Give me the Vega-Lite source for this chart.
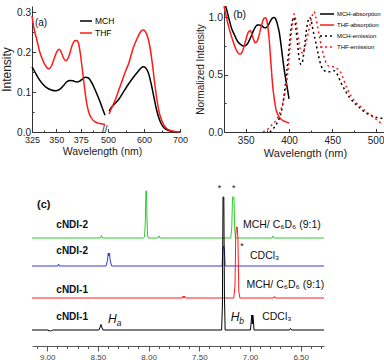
{
"$schema": "https://vega.github.io/schema/vega-lite/v6.json",
"padding": {"left": 0, "top": 6, "right": 0, "bottom": 0},
"spacing": 23,
"config": {"font": "Liberation Sans", "view": {"stroke": null}, "axis": {"grid": false, "domainColor": "#333", "tickColor": "#333", "labelColor": "#222", "titleColor": "#222", "titleFontWeight": "normal", "labelFlush": false}, "legend": {"padding": 0}},
"datasets": {
"absA": [
{"w":325,"v":0.163,"s":"MCH","seg":"L"},{"w":328,"v":0.15,"s":"MCH","seg":"L"},{"w":332,"v":0.133,"s":"MCH","seg":"L"},{"w":336,"v":0.12,"s":"MCH","seg":"L"},{"w":340,"v":0.111,"s":"MCH","seg":"L"},{"w":345,"v":0.105,"s":"MCH","seg":"L"},{"w":349,"v":0.103,"s":"MCH","seg":"L"},{"w":353,"v":0.106,"s":"MCH","seg":"L"},{"w":357,"v":0.115,"s":"MCH","seg":"L"},{"w":361,"v":0.126,"s":"MCH","seg":"L"},{"w":364,"v":0.129,"s":"MCH","seg":"L"},{"w":367,"v":0.128,"s":"MCH","seg":"L"},{"w":371,"v":0.125,"s":"MCH","seg":"L"},{"w":374,"v":0.127,"s":"MCH","seg":"L"},{"w":377,"v":0.133,"s":"MCH","seg":"L"},{"w":380,"v":0.137,"s":"MCH","seg":"L"},{"w":383,"v":0.135,"s":"MCH","seg":"L"},{"w":386,"v":0.125,"s":"MCH","seg":"L"},{"w":389,"v":0.11,"s":"MCH","seg":"L"},{"w":392,"v":0.093,"s":"MCH","seg":"L"},{"w":395,"v":0.075,"s":"MCH","seg":"L"},{"w":398,"v":0.055,"s":"MCH","seg":"L"},{"w":400,"v":0.042,"s":"MCH","seg":"L"},
{"w":325,"v":0.29,"s":"THF","seg":"L"},{"w":327,"v":0.26,"s":"THF","seg":"L"},{"w":330,"v":0.23,"s":"THF","seg":"L"},{"w":333,"v":0.2,"s":"THF","seg":"L"},{"w":336,"v":0.18,"s":"THF","seg":"L"},{"w":339,"v":0.165,"s":"THF","seg":"L"},{"w":342,"v":0.158,"s":"THF","seg":"L"},{"w":345,"v":0.165,"s":"THF","seg":"L"},{"w":348,"v":0.185,"s":"THF","seg":"L"},{"w":351,"v":0.203,"s":"THF","seg":"L"},{"w":353,"v":0.207,"s":"THF","seg":"L"},{"w":355,"v":0.2,"s":"THF","seg":"L"},{"w":357,"v":0.187,"s":"THF","seg":"L"},{"w":360,"v":0.178,"s":"THF","seg":"L"},{"w":363,"v":0.19,"s":"THF","seg":"L"},{"w":366,"v":0.215,"s":"THF","seg":"L"},{"w":369,"v":0.228,"s":"THF","seg":"L"},{"w":371,"v":0.229,"s":"THF","seg":"L"},{"w":373,"v":0.22,"s":"THF","seg":"L"},{"w":375,"v":0.19,"s":"THF","seg":"L"},{"w":377,"v":0.15,"s":"THF","seg":"L"},{"w":379,"v":0.11,"s":"THF","seg":"L"},{"w":381,"v":0.075,"s":"THF","seg":"L"},{"w":383,"v":0.052,"s":"THF","seg":"L"},{"w":386,"v":0.035,"s":"THF","seg":"L"},{"w":390,"v":0.025,"s":"THF","seg":"L"},{"w":395,"v":0.021,"s":"THF","seg":"L"},{"w":400,"v":0.019,"s":"THF","seg":"L"},
{"w":503,"v":0.052,"s":"MCH","seg":"R"},{"w":510,"v":0.062,"s":"MCH","seg":"R"},{"w":520,"v":0.072,"s":"MCH","seg":"R"},{"w":530,"v":0.082,"s":"MCH","seg":"R"},{"w":540,"v":0.096,"s":"MCH","seg":"R"},{"w":550,"v":0.11,"s":"MCH","seg":"R"},{"w":557,"v":0.12,"s":"MCH","seg":"R"},{"w":565,"v":0.13,"s":"MCH","seg":"R"},{"w":576,"v":0.143,"s":"MCH","seg":"R"},{"w":585,"v":0.153,"s":"MCH","seg":"R"},{"w":592,"v":0.16,"s":"MCH","seg":"R"},{"w":598,"v":0.163,"s":"MCH","seg":"R"},{"w":605,"v":0.16,"s":"MCH","seg":"R"},{"w":612,"v":0.148,"s":"MCH","seg":"R"},{"w":620,"v":0.12,"s":"MCH","seg":"R"},{"w":628,"v":0.085,"s":"MCH","seg":"R"},{"w":635,"v":0.055,"s":"MCH","seg":"R"},{"w":642,"v":0.033,"s":"MCH","seg":"R"},{"w":650,"v":0.017,"s":"MCH","seg":"R"},{"w":660,"v":0.007,"s":"MCH","seg":"R"},{"w":675,"v":0.002,"s":"MCH","seg":"R"},{"w":700,"v":0,"s":"MCH","seg":"R"},
{"w":503,"v":0.045,"s":"THF","seg":"R"},{"w":510,"v":0.06,"s":"THF","seg":"R"},{"w":520,"v":0.08,"s":"THF","seg":"R"},{"w":530,"v":0.105,"s":"THF","seg":"R"},{"w":540,"v":0.13,"s":"THF","seg":"R"},{"w":550,"v":0.155,"s":"THF","seg":"R"},{"w":557,"v":0.17,"s":"THF","seg":"R"},{"w":570,"v":0.21,"s":"THF","seg":"R"},{"w":580,"v":0.232,"s":"THF","seg":"R"},{"w":590,"v":0.25,"s":"THF","seg":"R"},{"w":597,"v":0.255,"s":"THF","seg":"R"},{"w":603,"v":0.252,"s":"THF","seg":"R"},{"w":610,"v":0.238,"s":"THF","seg":"R"},{"w":617,"v":0.21,"s":"THF","seg":"R"},{"w":624,"v":0.165,"s":"THF","seg":"R"},{"w":630,"v":0.12,"s":"THF","seg":"R"},{"w":636,"v":0.08,"s":"THF","seg":"R"},{"w":642,"v":0.05,"s":"THF","seg":"R"},{"w":650,"v":0.027,"s":"THF","seg":"R"},{"w":660,"v":0.011,"s":"THF","seg":"R"},{"w":675,"v":0.003,"s":"THF","seg":"R"},{"w":700,"v":0,"s":"THF","seg":"R"}
],
"absB": [
{"w":325,"v":1.14,"s":"MCH-absorption"},{"w":328,"v":1.07,"s":"MCH-absorption"},{"w":331,"v":0.98,"s":"MCH-absorption"},{"w":334,"v":0.9,"s":"MCH-absorption"},{"w":337,"v":0.85,"s":"MCH-absorption"},{"w":340,"v":0.8,"s":"MCH-absorption"},{"w":344,"v":0.765,"s":"MCH-absorption"},{"w":348,"v":0.75,"s":"MCH-absorption"},{"w":352,"v":0.77,"s":"MCH-absorption"},{"w":356,"v":0.83,"s":"MCH-absorption"},{"w":360,"v":0.9,"s":"MCH-absorption"},{"w":364,"v":0.935,"s":"MCH-absorption"},{"w":368,"v":0.93,"s":"MCH-absorption"},{"w":372,"v":0.91,"s":"MCH-absorption"},{"w":375,"v":0.92,"s":"MCH-absorption"},{"w":378,"v":0.96,"s":"MCH-absorption"},{"w":381,"v":0.995,"s":"MCH-absorption"},{"w":383,"v":1.0,"s":"MCH-absorption"},{"w":385,"v":0.98,"s":"MCH-absorption"},{"w":387,"v":0.93,"s":"MCH-absorption"},{"w":389,"v":0.86,"s":"MCH-absorption"},{"w":391,"v":0.75,"s":"MCH-absorption"},{"w":393,"v":0.63,"s":"MCH-absorption"},{"w":395,"v":0.52,"s":"MCH-absorption"},{"w":397,"v":0.43,"s":"MCH-absorption"},{"w":399,"v":0.34,"s":"MCH-absorption"},{"w":400,"v":0.29,"s":"MCH-absorption"},
{"w":325,"v":1.1,"s":"THF-absorption"},{"w":327,"v":1.03,"s":"THF-absorption"},{"w":330,"v":0.93,"s":"THF-absorption"},{"w":333,"v":0.85,"s":"THF-absorption"},{"w":336,"v":0.78,"s":"THF-absorption"},{"w":339,"v":0.72,"s":"THF-absorption"},{"w":342,"v":0.685,"s":"THF-absorption"},{"w":344,"v":0.68,"s":"THF-absorption"},{"w":347,"v":0.72,"s":"THF-absorption"},{"w":350,"v":0.8,"s":"THF-absorption"},{"w":353,"v":0.87,"s":"THF-absorption"},{"w":355,"v":0.885,"s":"THF-absorption"},{"w":357,"v":0.86,"s":"THF-absorption"},{"w":359,"v":0.81,"s":"THF-absorption"},{"w":361,"v":0.78,"s":"THF-absorption"},{"w":363,"v":0.79,"s":"THF-absorption"},{"w":366,"v":0.86,"s":"THF-absorption"},{"w":369,"v":0.95,"s":"THF-absorption"},{"w":371,"v":0.99,"s":"THF-absorption"},{"w":373,"v":0.998,"s":"THF-absorption"},{"w":375,"v":0.95,"s":"THF-absorption"},{"w":377,"v":0.82,"s":"THF-absorption"},{"w":379,"v":0.62,"s":"THF-absorption"},{"w":381,"v":0.42,"s":"THF-absorption"},{"w":383,"v":0.29,"s":"THF-absorption"},{"w":385,"v":0.2,"s":"THF-absorption"},{"w":388,"v":0.14,"s":"THF-absorption"},{"w":392,"v":0.105,"s":"THF-absorption"},{"w":396,"v":0.09,"s":"THF-absorption"},{"w":400,"v":0.08,"s":"THF-absorption"},
{"w":378,"v":0.0,"s":"MCH-emission"},{"w":383,"v":0.04,"s":"MCH-emission"},{"w":387,"v":0.09,"s":"MCH-emission"},{"w":391,"v":0.17,"s":"MCH-emission"},{"w":394,"v":0.3,"s":"MCH-emission"},{"w":397,"v":0.5,"s":"MCH-emission"},{"w":400,"v":0.72,"s":"MCH-emission"},{"w":402,"v":0.88,"s":"MCH-emission"},{"w":404,"v":0.97,"s":"MCH-emission"},{"w":406,"v":1.0,"s":"MCH-emission"},{"w":408,"v":0.9,"s":"MCH-emission"},{"w":410,"v":0.76,"s":"MCH-emission"},{"w":412,"v":0.63,"s":"MCH-emission"},{"w":414,"v":0.59,"s":"MCH-emission"},{"w":416,"v":0.63,"s":"MCH-emission"},{"w":418,"v":0.75,"s":"MCH-emission"},{"w":420,"v":0.88,"s":"MCH-emission"},{"w":422,"v":0.97,"s":"MCH-emission"},{"w":424,"v":1.0,"s":"MCH-emission"},{"w":426,"v":0.96,"s":"MCH-emission"},{"w":428,"v":0.88,"s":"MCH-emission"},{"w":431,"v":0.78,"s":"MCH-emission"},{"w":434,"v":0.67,"s":"MCH-emission"},{"w":437,"v":0.58,"s":"MCH-emission"},{"w":441,"v":0.535,"s":"MCH-emission"},{"w":446,"v":0.525,"s":"MCH-emission"},{"w":452,"v":0.535,"s":"MCH-emission"},{"w":456,"v":0.5,"s":"MCH-emission"},{"w":460,"v":0.43,"s":"MCH-emission"},{"w":465,"v":0.36,"s":"MCH-emission"},{"w":470,"v":0.3,"s":"MCH-emission"},{"w":476,"v":0.25,"s":"MCH-emission"},{"w":482,"v":0.21,"s":"MCH-emission"},{"w":488,"v":0.17,"s":"MCH-emission"},{"w":494,"v":0.15,"s":"MCH-emission"},{"w":500,"v":0.13,"s":"MCH-emission"},{"w":506,"v":0.12,"s":"MCH-emission"},{"w":512,"v":0.12,"s":"MCH-emission"},
{"w":370,"v":0.0,"s":"THF-emission"},{"w":375,"v":0.02,"s":"THF-emission"},{"w":380,"v":0.06,"s":"THF-emission"},{"w":385,"v":0.1,"s":"THF-emission"},{"w":389,"v":0.16,"s":"THF-emission"},{"w":393,"v":0.26,"s":"THF-emission"},{"w":396,"v":0.37,"s":"THF-emission"},{"w":399,"v":0.55,"s":"THF-emission"},{"w":402,"v":0.8,"s":"THF-emission"},{"w":404,"v":0.95,"s":"THF-emission"},{"w":406,"v":1.03,"s":"THF-emission"},{"w":408,"v":0.97,"s":"THF-emission"},{"w":410,"v":0.86,"s":"THF-emission"},{"w":412,"v":0.76,"s":"THF-emission"},{"w":414,"v":0.7,"s":"THF-emission"},{"w":416,"v":0.69,"s":"THF-emission"},{"w":418,"v":0.73,"s":"THF-emission"},{"w":421,"v":0.82,"s":"THF-emission"},{"w":424,"v":0.93,"s":"THF-emission"},{"w":427,"v":1.02,"s":"THF-emission"},{"w":429,"v":1.05,"s":"THF-emission"},{"w":431,"v":1.0,"s":"THF-emission"},{"w":433,"v":0.92,"s":"THF-emission"},{"w":436,"v":0.8,"s":"THF-emission"},{"w":439,"v":0.7,"s":"THF-emission"},{"w":442,"v":0.62,"s":"THF-emission"},{"w":446,"v":0.575,"s":"THF-emission"},{"w":451,"v":0.57,"s":"THF-emission"},{"w":455,"v":0.555,"s":"THF-emission"},{"w":459,"v":0.53,"s":"THF-emission"},{"w":463,"v":0.46,"s":"THF-emission"},{"w":467,"v":0.38,"s":"THF-emission"},{"w":472,"v":0.31,"s":"THF-emission"},{"w":477,"v":0.26,"s":"THF-emission"},{"w":483,"v":0.22,"s":"THF-emission"},{"w":489,"v":0.18,"s":"THF-emission"},{"w":495,"v":0.14,"s":"THF-emission"},{"w":501,"v":0.11,"s":"THF-emission"},{"w":507,"v":0.07,"s":"THF-emission"}
],
"nmr": [
{"p":9.15,"v":108,"s":"G"},{"p":8.475,"v":108,"s":"G"},{"p":8.465,"v":110.5,"s":"G"},{"p":8.455,"v":108,"s":"G"},{"p":8.05,"v":108,"s":"G"},{"p":8.04,"v":109,"s":"G"},{"p":8.032,"v":125,"s":"G"},{"p":8.027,"v":155,"s":"G"},{"p":8.021,"v":155,"s":"G"},{"p":8.016,"v":128,"s":"G"},{"p":8.01,"v":110,"s":"G"},{"p":8.0,"v":108,"s":"G"},{"p":7.905,"v":108,"s":"G"},{"p":7.895,"v":110,"s":"G"},{"p":7.885,"v":108,"s":"G"},{"p":7.19,"v":108,"s":"G"},{"p":7.18,"v":118,"s":"G"},{"p":7.172,"v":149,"s":"G"},{"p":7.165,"v":149,"s":"G"},{"p":7.158,"v":149,"s":"G"},{"p":7.151,"v":118,"s":"G"},{"p":7.143,"v":108,"s":"G"},{"p":6.785,"v":108,"s":"G"},{"p":6.775,"v":110,"s":"G"},{"p":6.765,"v":108,"s":"G"},{"p":6.27,"v":108,"s":"G"},
{"p":9.15,"v":80,"s":"B"},{"p":8.895,"v":80,"s":"B"},{"p":8.888,"v":82,"s":"B"},{"p":8.88,"v":80,"s":"B"},{"p":8.42,"v":80,"s":"B"},{"p":8.405,"v":86,"s":"B"},{"p":8.398,"v":93,"s":"B"},{"p":8.392,"v":90,"s":"B"},{"p":8.386,"v":93,"s":"B"},{"p":8.379,"v":86,"s":"B"},{"p":8.365,"v":80,"s":"B"},{"p":7.275,"v":80,"s":"B"},{"p":7.268,"v":96,"s":"B"},{"p":7.26,"v":100,"s":"B"},{"p":7.252,"v":96,"s":"B"},{"p":7.245,"v":80,"s":"B"},{"p":6.27,"v":80,"s":"B"},
{"p":9.15,"v":48,"s":"R"},{"p":7.665,"v":48,"s":"R"},{"p":7.66,"v":50,"s":"R"},{"p":7.652,"v":48,"s":"R"},{"p":7.645,"v":50,"s":"R"},{"p":7.638,"v":48,"s":"R"},{"p":7.16,"v":48,"s":"R"},{"p":7.148,"v":60,"s":"R"},{"p":7.14,"v":112,"s":"R"},{"p":7.133,"v":119,"s":"R"},{"p":7.126,"v":119,"s":"R"},{"p":7.119,"v":108,"s":"R"},{"p":7.11,"v":55,"s":"R"},{"p":7.1,"v":48,"s":"R"},{"p":6.765,"v":48,"s":"R"},{"p":6.758,"v":49.5,"s":"R"},{"p":6.75,"v":48,"s":"R"},{"p":6.27,"v":48,"s":"R"},
{"p":9.15,"v":16,"s":"K"},{"p":8.99,"v":16,"s":"K"},{"p":8.985,"v":15,"s":"K"},{"p":8.975,"v":15.5,"s":"K"},{"p":8.965,"v":15,"s":"K"},{"p":8.955,"v":15.5,"s":"K"},{"p":8.94,"v":16,"s":"K"},{"p":8.49,"v":16,"s":"K"},{"p":8.478,"v":19,"s":"K"},{"p":8.47,"v":21.5,"s":"K"},{"p":8.462,"v":19,"s":"K"},{"p":8.45,"v":16,"s":"K"},{"p":7.28,"v":16,"s":"K"},{"p":7.272,"v":40,"s":"K"},{"p":7.266,"v":149,"s":"K"},{"p":7.258,"v":149,"s":"K"},{"p":7.252,"v":50,"s":"K"},{"p":7.245,"v":16,"s":"K"},{"p":6.995,"v":16,"s":"K"},{"p":6.987,"v":26,"s":"K"},{"p":6.982,"v":31,"s":"K"},{"p":6.977,"v":22,"s":"K"},{"p":6.972,"v":31,"s":"K"},{"p":6.967,"v":26,"s":"K"},{"p":6.96,"v":16,"s":"K"},{"p":6.61,"v":16,"s":"K"},{"p":6.6,"v":17.5,"s":"K"},{"p":6.59,"v":16,"s":"K"},{"p":6.27,"v":16,"s":"K"}
]
},
"vconcat": [
{
"width": 354, "height": 126,
"resolve": {"scale": {"x": "independent", "y": "independent", "color": "independent", "strokeDash": "independent"}},
"layer": [
{
"data": {"name": "absA"},
"transform": [{"filter": "datum.seg == 'L'"}],
"mark": {"type": "line", "strokeWidth": 1.5, "interpolate": "monotone"},
"encoding": {
"x": {"field": "w", "type": "quantitative", "scale": {"domain": [325, 400], "range": [0, 73], "nice": false, "zero": false},
 "axis": {"orient": "bottom", "title": null, "values": [325, 337.5, 350, 362.5, 375, 387.5], "labelExpr": "datum.value % 25 == 0 ? datum.label : ''", "tickSize": {"condition": {"test": "datum.value % 25 == 0", "value": -3.5}, "value": -2}, "labelFontSize": 9, "labelPadding": 7}},
"y": {"field": "v", "type": "quantitative", "scale": {"domain": [0, 0.315], "nice": false},
 "axis": {"orient": "left", "title": "Intensity", "titleFontSize": 12, "titlePadding": 3, "values": [0, 0.05, 0.1, 0.15, 0.2, 0.25, 0.3], "labelExpr": "abs(datum.value*10 - round(datum.value*10)) < 0.001 ? format(datum.value, '.1f') : ''", "tickSize": {"condition": {"test": "abs(datum.value*10 - round(datum.value*10)) < 0.001", "value": -3.5}, "value": -2}, "labelFontSize": 10, "labelPadding": 5}},
"color": {"field": "s", "type": "nominal", "scale": {"domain": ["MCH", "THF"], "range": ["#000000", "#ff1a1a"]},
 "legend": {"orient": "none", "legendX": 47, "legendY": 8, "title": null, "symbolType": "stroke", "symbolSize": 144, "symbolStrokeWidth": 1.5, "labelFontSize": 8.5, "rowPadding": -1, "labelOffset": 2}}
}
},
{
"data": {"values": [{"w": 328, "v": 0.2725, "t": "(a)"}, {"w": 397, "v": 0.006, "t": "//"}]},
"mark": {"type": "text", "align": "left", "baseline": "middle", "fontSize": 10, "color": "#111"},
"encoding": {
"x": {"field": "w", "type": "quantitative", "scale": {"domain": [325, 400], "range": [0, 73], "nice": false, "zero": false}, "axis": null},
"y": {"field": "v", "type": "quantitative", "scale": {"domain": [0, 0.315], "nice": false}, "axis": null},
"text": {"field": "t"}
}
},
{
"data": {"name": "absA"},
"transform": [{"filter": "datum.seg == 'R'"}],
"mark": {"type": "line", "strokeWidth": 1.5, "interpolate": "monotone"},
"encoding": {
"x": {"field": "w", "type": "quantitative", "scale": {"domain": [500, 700], "range": [76, 148], "nice": false, "zero": false},
 "axis": {"orient": "bottom", "title": "Wavelength (nm)", "titleX": 70, "titleFontSize": 10.5, "titlePadding": 2, "values": [500, 550, 600, 650, 700], "labelExpr": "datum.value % 100 == 0 ? datum.label : ''", "tickSize": {"condition": {"test": "datum.value % 100 == 0", "value": -3.5}, "value": -2}, "labelFontSize": 9, "labelPadding": 7}},
"y": {"field": "v", "type": "quantitative", "scale": {"domain": [0, 0.315], "nice": false}, "axis": null},
"color": {"field": "s", "type": "nominal", "scale": {"domain": ["MCH", "THF"], "range": ["#000000", "#ff1a1a"]}, "legend": null}
}
},
{
"data": {"name": "absB"},
"mark": {"type": "line", "strokeWidth": 1.5, "interpolate": "monotone", "clip": true},
"encoding": {
"x": {"field": "w", "type": "quantitative", "scale": {"domain": [325, 512], "range": [192, 354], "nice": false, "zero": false},
 "axis": {"orient": "bottom", "title": "Wavelength (nm)", "titleFontSize": 11, "titlePadding": 2, "values": [350, 375, 400, 425, 450, 475, 500], "labelExpr": "datum.value % 50 == 0 ? datum.label : ''", "tickSize": {"condition": {"test": "datum.value % 50 == 0", "value": -3.5}, "value": -2}, "labelFontSize": 10, "labelPadding": 7}},
"y": {"field": "v", "type": "quantitative", "scale": {"domain": [0, 1.1], "nice": false},
 "axis": {"orient": "left", "offset": -192, "title": "Normalized Intensity", "titleFontSize": 10, "titlePadding": 2, "values": [0, 0.25, 0.5, 0.75, 1.0], "labelExpr": "abs(datum.value*2 - round(datum.value*2)) < 0.001 ? format(datum.value, '.1f') : ''", "tickSize": {"condition": {"test": "abs(datum.value*2 - round(datum.value*2)) < 0.001", "value": -3.5}, "value": -2}, "labelFontSize": 10.5, "labelPadding": 5}},
"color": {"field": "s", "type": "nominal", "scale": {"domain": ["MCH-absorption", "THF-absorption", "MCH-emission", "THF-emission"], "range": ["#000000", "#ff1a1a", "#000000", "#ff1a1a"]},
 "legend": {"orient": "none", "legendX": 287, "legendY": 0, "title": null, "symbolType": "stroke", "symbolSize": 196, "symbolStrokeWidth": 1.5, "labelFontSize": 6, "rowPadding": -6.5, "labelOffset": 2}},
"strokeDash": {"field": "s", "type": "nominal", "scale": {"domain": ["MCH-absorption", "THF-absorption", "MCH-emission", "THF-emission"], "range": [[1, 0], [1, 0], [2, 3], [2, 3]]},
 "legend": {"orient": "none", "legendX": 287, "legendY": 0, "title": null, "symbolType": "stroke", "symbolSize": 196, "symbolStrokeWidth": 1.5, "labelFontSize": 6, "rowPadding": -6.5, "labelOffset": 2}}
}
},
{
"data": {"values": [{"w": 335.6, "v": 1.018, "t": "(b)"}]},
"mark": {"type": "text", "align": "left", "baseline": "middle", "fontSize": 10.5, "color": "#111"},
"encoding": {
"x": {"field": "w", "type": "quantitative", "scale": {"domain": [325, 512], "range": [192, 354], "nice": false, "zero": false}, "axis": null},
"y": {"field": "v", "type": "quantitative", "scale": {"domain": [0, 1.1], "nice": false}, "axis": null},
"text": {"field": "t"}
}
}
]
},
{
"width": 292, "height": 164,
"encoding": {
"x": {"field": "p", "type": "quantitative", "scale": {"domain": [6.27, 9.15], "reverse": true, "nice": false, "zero": false},
 "axis": {"title": null, "values": [6.3, 6.4, 6.5, 6.6, 6.7, 6.8, 6.9, 7.0, 7.1, 7.2, 7.3, 7.4, 7.5, 7.6, 7.7, 7.8, 7.9, 8.0, 8.1, 8.2, 8.3, 8.4, 8.5, 8.6, 8.7, 8.8, 8.9, 9.0, 9.1], "labelExpr": "abs(datum.value*2 - round(datum.value*2)) < 0.001 ? format(datum.value, '.2f') : ''", "tickSize": {"condition": {"test": "abs(datum.value*2 - round(datum.value*2)) < 0.001", "value": 5}, "value": 2.5}, "labelFontSize": 8, "labelColor": "#444", "domainColor": "#555", "tickColor": "#555", "labelPadding": 2}},
"y": {"field": "v", "type": "quantitative", "scale": {"domain": [0, 164], "nice": false}, "axis": null}
},
"layer": [
{
"data": {"name": "nmr"},
"mark": {"type": "line", "strokeWidth": 1},
"encoding": {
"color": {"field": "s", "type": "nominal", "scale": {"domain": ["G", "B", "R", "K"], "range": ["#2ecc2e", "#3a3acc", "#ff1a1a", "#000000"]}, "legend": null}
}
},
{
"data": {"values": [{"p": 9.10, "v": 141, "t": "(c)"}]},
"mark": {"type": "text", "align": "left", "baseline": "middle", "fontSize": 11, "fontWeight": "bold", "color": "#111"},
"encoding": {"text": {"field": "t"}}
},
{
"data": {"values": [{"p": 8.91, "v": 121, "t": "cNDI-2"}, {"p": 8.91, "v": 95, "t": "cNDI-2"}, {"p": 8.91, "v": 56, "t": "cNDI-1"}, {"p": 8.91, "v": 29, "t": "cNDI-1"}]},
"mark": {"type": "text", "align": "left", "baseline": "middle", "fontSize": 10, "fontWeight": "bold", "color": "#111"},
"encoding": {"text": {"field": "t"}}
},
{
"data": {"values": [{"p": 7.07, "v": 121, "t": "MCH/ C₆D₆ (9:1)"}, {"p": 7.0, "v": 90, "t": "CDCl₃"}, {"p": 7.035, "v": 61, "t": "MCH/ C₆D₆ (9:1)"}, {"p": 6.88, "v": 29, "t": "CDCl₃"}]},
"mark": {"type": "text", "align": "left", "baseline": "middle", "fontSize": 10.5, "color": "#111"},
"encoding": {"text": {"field": "t"}}
},
{
"data": {"values": [{"p": 8.40, "v": 27, "t": "H"}, {"p": 7.19, "v": 29, "t": "H"}]},
"mark": {"type": "text", "align": "left", "baseline": "middle", "fontSize": 12, "fontStyle": "italic", "color": "#111"},
"encoding": {"text": {"field": "t"}}
},
{
"data": {"values": [{"p": 8.315, "v": 23, "t": "a"}, {"p": 7.105, "v": 25, "t": "b"}]},
"mark": {"type": "text", "align": "left", "baseline": "middle", "fontSize": 8.5, "fontStyle": "italic", "color": "#111"},
"encoding": {"text": {"field": "t"}}
},
{
"data": {"values": [{"p": 7.30, "v": 158.5, "t": "*"}, {"p": 7.16, "v": 158.5, "t": "*"}, {"p": 7.08, "v": 100, "t": "*"}]},
"mark": {"type": "text", "align": "center", "baseline": "middle", "fontSize": 9, "color": "#111"},
"encoding": {"text": {"field": "t"}}
}
]
}
]
}
